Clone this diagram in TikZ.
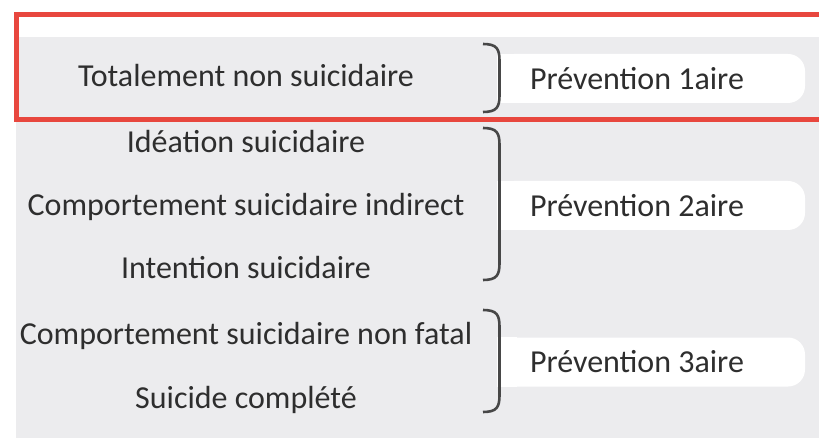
\documentclass[tikz,border=0pt]{standalone}
\usepackage{fontspec}
\setmainfont{Carlito}
\usetikzlibrary{
  positioning,  % right=of ...
}
\definecolor{paneGrey}{HTML}{ECECEE}
\definecolor{markRed}{HTML}{E8473E}
\definecolor{inkGrey}{HTML}{2E2E2E}
\definecolor{braceGrey}{HTML}{474747}
% brace from #1 (top) to #2 (bottom)
\newcommand{\pbrace}[2]{%
  \draw[my brace] (483,#1) .. controls (497,#1) and (499.5,#1+5) .. (499.5,#1+17)
    -- (499.5,#2-17) .. controls (499.5,#2-5) and (497,#2) .. (483,#2);}
\tikzset{
  font=\fontsize{32}{38}\selectfont,
  level/.style={
    anchor=base,
    text=inkGrey,
    inner sep=0pt
  },
  pill/.style={
    fill=white,
    rounded corners=17,
    minimum width=308,
    minimum height=49,
    inner sep=0pt
  },
  prev/.style={
    text=inkGrey,
    inner sep=0pt
  },
  my brace/.style={
    draw=braceGrey,
    line width=2.6pt
  },
  frame/.style={
    draw=markRed,
    line width=5pt
  }
}
\begin{document}
\begin{tikzpicture}[x=1pt,y=-1pt]
\fill[white] (0,0) rectangle (819,438);
\useasboundingbox (0,0) rectangle (819,438);
\fill[paneGrey] (16,37) rectangle (819,438);
% prevention bars
\node[pill] (p1) at (651,78.5) {};
\node[pill] (p2) at (651,205.5) {};
\node[pill] (p3) at (651,362) {};
\foreach \p in {p1,p2,p3}
  \fill[white] (\p.north west) rectangle ([xshift=20]\p.south west);
\node[prev, right=33pt of p1.west] (t1) {Prévention 1aire};
\node[prev, right=33pt of p2.west] (t2) {Prévention 2aire};
\node[prev, right=33pt of p3.west] (t3) {Prévention 3aire};
% braces
\pbrace{44}{112}
\pbrace{128}{280}
\pbrace{310}{412}
% levels
\node[level] (l1) at (246,87)  {Totalement non suicidaire};
\node[level] (l2) at (246,153) {Idéation suicidaire};
\node[level] (l3) at (246,216) {Comportement suicidaire indirect};
\node[level] (l4) at (246,279) {Intention suicidaire};
\node[level] (l5) at (246,344) {Comportement suicidaire non fatal};
\node[level] (l6) at (246,408) {Suicide complété};
% highlight
\draw[frame] (16.5,15) rectangle (830,120);
\end{tikzpicture}
\end{document}
